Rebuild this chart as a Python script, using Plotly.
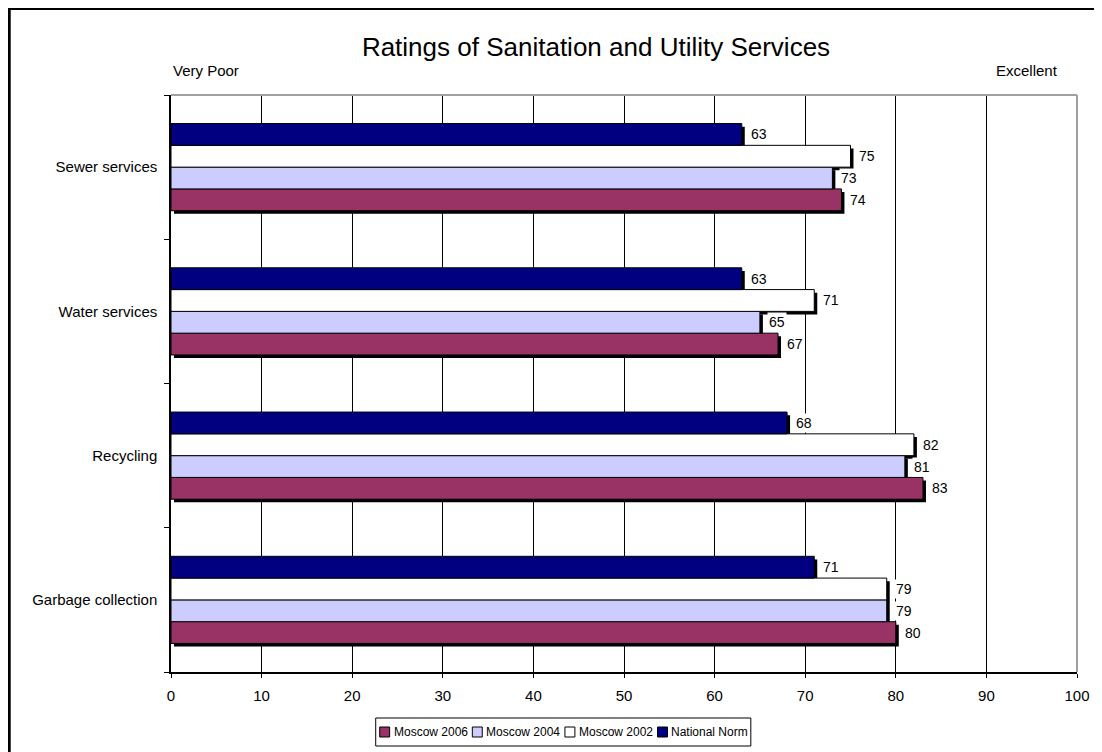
import plotly.graph_objects as go

categories = ["Sewer services", "Water services", "Recycling", "Garbage collection"]
national_norm = [63, 63, 68, 71]
moscow_2002 = [75, 71, 82, 79]
moscow_2004 = [73, 65, 81, 79]
moscow_2006 = [74, 67, 83, 80]
x_ticks = [0, 10, 20, 30, 40, 50, 60, 70, 80, 90, 100]

FONT = "Arial, Liberation Sans, sans-serif"
W = 0.151          # bar thickness in category units
SH_DX = 0.33       # shadow shift (x units)
SH_DY = 0.022      # shadow shift (category units)

# figure geometry (page body adds an 8px margin)
FIG_W, FIG_H = 1094, 744
ML, MR, MT, MB = 163, 21, 87, 80
PW = FIG_W - ML - MR
PH = FIG_H - MT - MB


def px_to_paper_x(px):
    return (px - ML) / PW


def px_to_paper_y(py):
    return (FIG_H - MB - py) / PH


order = list(reversed(categories))
pos = {c: i for i, c in enumerate(order)}

series = [
    ("Moscow 2006", moscow_2006, "#993366", -2 * W),
    ("Moscow 2004", moscow_2004, "#CCCCFF", -1 * W),
    ("Moscow 2002", moscow_2002, "#FFFFFF", 0.0),
    ("National Norm", national_norm, "#000080", 1 * W),
]

fig = go.Figure()

for name, vals, color, off in series:
    fig.add_trace(go.Bar(
        y=categories, x=vals, base=SH_DX, orientation="h",
        offset=off - SH_DY, width=W,
        marker=dict(color="black", line=dict(width=0)),
        showlegend=False, hoverinfo="skip",
    ))

for name, vals, color, off in series:
    fig.add_trace(go.Bar(
        y=categories, x=vals, orientation="h", name=name,
        offset=off, width=W, showlegend=False,
        marker=dict(color=color, line=dict(color="black", width=1)),
    ))

annotations = []
for name, vals, color, off in series:
    for c, v in zip(categories, vals):
        annotations.append(dict(
            x=v + SH_DX, y=pos[c] + off + W / 2, xref="x", yref="y",
            text=str(v), showarrow=False, xanchor="left", yanchor="middle",
            xshift=4, bgcolor="white", borderpad=1,
            font=dict(family=FONT, size=14, color="black"),
        ))

annotations += [
    dict(text="Very Poor", xref="paper", yref="paper", x=0, y=px_to_paper_y(63),
         xanchor="left", yanchor="middle", showarrow=False,
         font=dict(family=FONT, size=15, color="black")),
    dict(text="Excellent", xref="paper", yref="paper", x=px_to_paper_x(1056),
         y=px_to_paper_y(63), xanchor="right", yanchor="middle", showarrow=False,
         font=dict(family=FONT, size=15, color="black")),
]

shapes = [
    dict(type="line", xref="paper", yref="paper", x0=0, x1=1, y0=1, y1=1,
         line=dict(color="#A0A0A0", width=2), layer="above"),
    dict(type="line", xref="paper", yref="paper", x0=1, x1=1, y0=0, y1=1,
         line=dict(color="#A0A0A0", width=2), layer="above"),
    dict(type="rect", xref="paper", yref="paper",
         x0=px_to_paper_x(0), x1=px_to_paper_x(FIG_W + 20),
         y0=px_to_paper_y(FIG_H + 20), y1=px_to_paper_y(0),
         line=dict(color="black", width=4), fillcolor="rgba(0,0,0,0)"),
]

# ---- legend (compact, Excel style) ----
LEG_FONT = 12
char_w = {"M": .833, "o": .556, "s": .5, "c": .5, "w": .722, " ": .278,
          "N": .722, "a": .556, "t": .278, "i": .222, "n": .556, "l": .222,
          "r": .333, "m": .833}


def text_w(s):
    return sum(char_w.get(ch, .556) for ch in s) * LEG_FONT


SQ = 10
GAP1, GAP2, PAD = 3, 6, 4
widths = [SQ + GAP1 + text_w(n) for n, *_ in series]
total = sum(widths) + GAP2 * (len(series) - 1) + 2 * PAD
leg_cx = 557
leg_top, leg_bot = 710, 738
leg_cy = (leg_top + leg_bot) / 2
x0 = leg_cx - total / 2
shapes.append(dict(type="rect", xref="paper", yref="paper",
                   x0=px_to_paper_x(x0), x1=px_to_paper_x(x0 + total),
                   y0=px_to_paper_y(leg_bot), y1=px_to_paper_y(leg_top),
                   line=dict(color="black", width=1), fillcolor="white"))
cx = x0 + PAD
for (name, vals, color, off), w in zip(series, widths):
    shapes.append(dict(type="rect", xref="paper", yref="paper",
                       x0=px_to_paper_x(cx), x1=px_to_paper_x(cx + SQ),
                       y0=px_to_paper_y(leg_cy + SQ / 2),
                       y1=px_to_paper_y(leg_cy - SQ / 2),
                       line=dict(color="black", width=1), fillcolor=color))
    annotations.append(dict(text=name, xref="paper", yref="paper",
                            x=px_to_paper_x(cx + SQ + GAP1), y=px_to_paper_y(leg_cy),
                            xanchor="left", yanchor="middle", showarrow=False,
                            borderpad=0,
                            font=dict(family=FONT, size=LEG_FONT, color="black")))
    cx += w + GAP2

fig.update_layout(
    width=FIG_W, height=FIG_H,
    margin=dict(l=ML, r=MR, t=MT, b=MB),
    paper_bgcolor="white", plot_bgcolor="white",
    barmode="overlay", showlegend=False,
    font=dict(family=FONT, color="black"),
    title=dict(text="Ratings of Sanitation and Utility Services",
               x=588 / FIG_W, xref="container", xanchor="center",
               y=1 - 39 / FIG_H, yref="container", yanchor="middle",
               font=dict(family=FONT, size=26, color="black")),
    xaxis=dict(range=[0, 100], tickvals=x_ticks, showgrid=True,
               gridcolor="black", gridwidth=1, zeroline=False,
               showline=True, linecolor="black", linewidth=1.5,
               ticks="outside", ticklen=4, tickcolor="black",
               ticklabelstandoff=5,
               tickfont=dict(family=FONT, size=15)),
    yaxis=dict(type="category", categoryorder="array", categoryarray=order,
               range=[-0.5, 3.5], showgrid=False, zeroline=False,
               showline=True, linecolor="black", linewidth=1.5,
               ticks="outside", ticklen=5, tickcolor="black",
               tickson="boundaries", ticklabelstandoff=9,
               tickfont=dict(family=FONT, size=15)),
    annotations=annotations,
    shapes=shapes,
)

fig.write_html("out.html")
